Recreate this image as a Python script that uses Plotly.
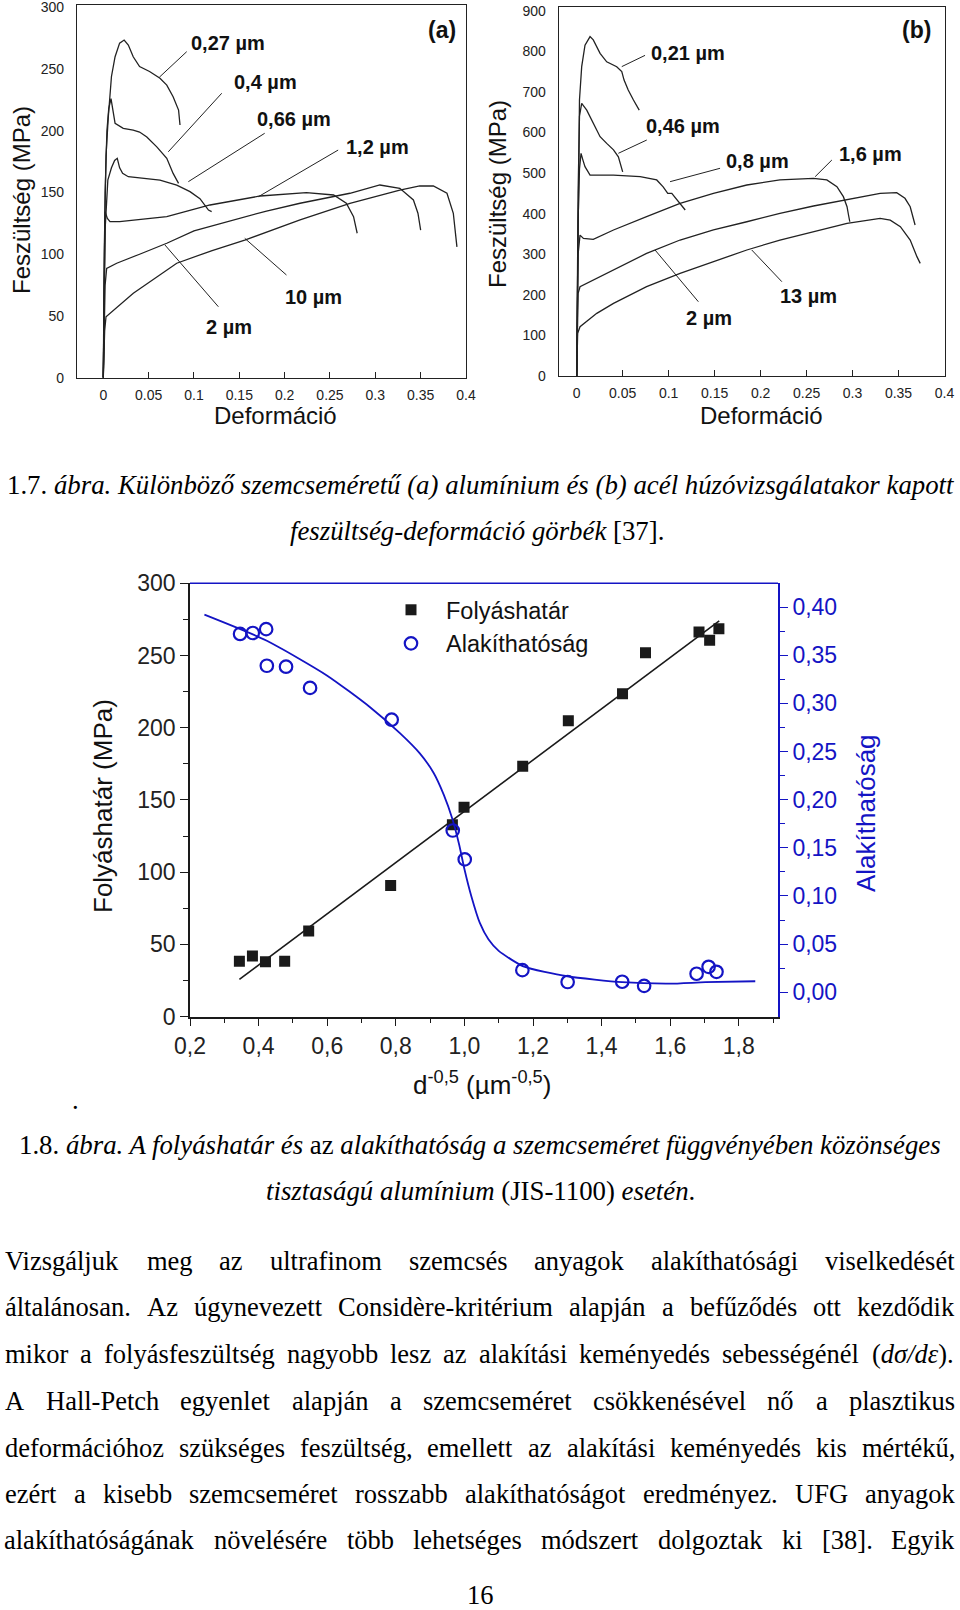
import re
import plotly.graph_objects as go

W, H = 960, 1610
SANS = "Liberation Sans, Arial, sans-serif"
SERIF = "Liberation Serif, Times New Roman, serif"
BLUE = "#1414c4"
INK = "#1a1a1a"
CURVE = "#222222"

# ---------------- (a) aluminium stress-strain curves ----------------
a027_x = [0, 0.001, 0.003, 0.0055, 0.009, 0.013, 0.018, 0.023, 0.0276, 0.033, 0.040, 0.051, 0.0625, 0.070, 0.077, 0.083, 0.0846]
a027_y = [0, 100, 180, 211, 244, 260, 271, 273.5, 269.5, 260, 252, 248, 242.5, 237, 227.6, 216.8, 204.7]
a04_x = [0, 0.002, 0.004, 0.006, 0.0085, 0.011, 0.013, 0.022, 0.033, 0.040, 0.048, 0.059, 0.070, 0.077, 0.083]
a04_y = [0, 150, 200, 218, 226, 214, 206, 202, 200.6, 199, 195, 187, 177.7, 165.5, 157.4]
a066_x = [0, 0.002, 0.005, 0.009, 0.0125, 0.0154, 0.018, 0.0213, 0.0276, 0.040, 0.0625, 0.081, 0.0956, 0.1066, 0.116, 0.1195]
a066_y = [0, 120, 160, 170, 176, 177.7, 170, 165.5, 162.8, 162, 160, 156, 150.7, 145, 135.8, 134.5]
a12_x = [0, 0.001, 0.002, 0.0045, 0.0074, 0.018, 0.040, 0.070, 0.1177, 0.173, 0.224, 0.254, 0.268, 0.276, 0.280]
a12_y = [0, 110, 134.5, 129, 126.4, 126.5, 128, 130.4, 139.9, 147.2, 149.9, 148, 141.3, 130.4, 117]
a2_x = [0, 0.002, 0.0037, 0.0148, 0.040, 0.070, 0.100, 0.143, 0.180, 0.217, 0.250, 0.272, 0.305, 0.327, 0.342, 0.347, 0.350]
a2_y = [0, 75, 88.6, 92.7, 100, 108.9, 119, 127.8, 135, 141.3, 146.5, 149.4, 156.1, 153.4, 144, 133.2, 119.6]
a10_x = [0, 0.0015, 0.003, 0.0331, 0.081, 0.120, 0.156, 0.217, 0.272, 0.327, 0.349, 0.364, 0.379, 0.386, 0.390]
a10_y = [0, 38, 49.4, 68.4, 92.7, 103, 111.5, 127.8, 141.3, 152, 155.3, 155.3, 149.4, 133.2, 106]

# ---------------- (b) steel stress-strain curves ----------------
b021_x = [0, 0.0015, 0.003, 0.0054, 0.009, 0.0145, 0.018, 0.0254, 0.0326, 0.0435, 0.049, 0.0515, 0.056, 0.0617, 0.0653, 0.068]
b021_y = [0, 400, 680, 762, 815, 836, 828, 795, 774, 762, 750, 729, 704.5, 680, 663.5, 655]
b046_x = [0, 0.0015, 0.003, 0.0054, 0.0109, 0.018, 0.0254, 0.0326, 0.040, 0.0453, 0.050]
b046_y = [0, 450, 640, 671.7, 655, 622, 589.6, 573, 557, 540, 503]
b08_x = [0, 0.0015, 0.003, 0.0047, 0.007, 0.009, 0.0145, 0.040, 0.069, 0.087, 0.094, 0.099, 0.1034, 0.109, 0.118]
b08_y = [0, 380, 510, 548.5, 530, 515.7, 495, 495, 491, 483, 466, 450, 450, 433.6, 409]
b16_x = [0, 0.0015, 0.0036, 0.0073, 0.018, 0.040, 0.076, 0.1124, 0.1487, 0.185, 0.221, 0.2575, 0.272, 0.283, 0.290, 0.294, 0.2956, 0.297]
b16_y = [0, 300, 347, 339, 336.7, 359.7, 392.5, 425, 450, 470.5, 483, 487, 483, 466.4, 441.8, 417, 396.6, 380]
b2_x = [0, 0.0015, 0.0036, 0.0218, 0.040, 0.076, 0.1124, 0.1487, 0.185, 0.221, 0.2575, 0.294, 0.330, 0.348, 0.357, 0.3627, 0.366, 0.368]
b2_y = [0, 203.6, 220, 240.6, 261, 302, 335, 359.7, 380, 400.7, 418.8, 433.6, 450, 451.6, 437.7, 417, 384.3, 372]
b13_x = [0, 0.001, 0.0036, 0.0218, 0.040, 0.076, 0.1124, 0.1487, 0.185, 0.221, 0.2575, 0.294, 0.330, 0.341, 0.352, 0.3627, 0.370, 0.3736]
b13_y = [0, 105, 121.5, 154.4, 179, 220, 253, 281.7, 310.4, 335, 355.6, 376, 388.4, 384, 368, 335, 294, 277.5]

a_xtick_vals = [0, 0.05, 0.1, 0.15, 0.2, 0.25, 0.3, 0.35, 0.4]
a_xtick_text = ["0", "0.05", "0.1", "0.15", "0.2", "0.25", "0.3", "0.35", "0.4"]
a_ytick_vals = [0, 50, 100, 150, 200, 250, 300]
b_ytick_vals = [0, 100, 200, 300, 400, 500, 600, 700, 800, 900]

# ---------------- 1.8 chart: yield strength & formability ----------------
fy_x = [0.344, 0.382, 0.420, 0.476, 0.546, 0.785, 0.965, 0.999, 1.170, 1.303, 1.461, 1.528, 1.684, 1.715, 1.742]
fy_y = [38.4, 42.0, 38.0, 38.4, 59.2, 90.8, 132.8, 144.9, 173.3, 204.8, 223.5, 252.0, 266.3, 260.5, 268.5]
fit_fy_x = [0.344, 1.743]
fit_fy_y = [25.7, 274.0]
al_x = [0.346, 0.383, 0.422, 0.424, 0.480, 0.550, 0.788, 0.966, 1.001, 1.169, 1.301, 1.460, 1.524, 1.677, 1.712, 1.735]
al_y = [0.372, 0.373, 0.377, 0.339, 0.338, 0.316, 0.283, 0.168, 0.138, 0.023, 0.0107, 0.011, 0.0067, 0.0193, 0.0265, 0.0213]
fit_al_x = [0.242, 0.424, 0.599, 0.725, 0.812, 0.870, 0.910, 0.940, 0.965, 0.985, 1.000, 1.020, 1.045, 1.070, 1.100, 1.172, 1.30, 1.46, 1.597, 1.703, 1.848]
fit_al_y = [0.392, 0.365, 0.329, 0.296, 0.269, 0.248, 0.228, 0.205, 0.180, 0.153, 0.128, 0.100, 0.072, 0.055, 0.043, 0.027, 0.0167, 0.0105, 0.009, 0.0105, 0.0115]

m_xtick_vals = [0.2, 0.4, 0.6, 0.8, 1.0, 1.2, 1.4, 1.6, 1.8]
m_xtick_text = ["0,2", "0,4", "0,6", "0,8", "1,0", "1,2", "1,4", "1,6", "1,8"]
m_xminor = [0.3, 0.5, 0.7, 0.9, 1.1, 1.3, 1.5, 1.7, 1.9]
m_yl_vals = [0, 50, 100, 150, 200, 250, 300]
m_yl_minor = [25, 75, 125, 175, 225, 275]
m_yr_vals = [0, 0.05, 0.10, 0.15, 0.20, 0.25, 0.30, 0.35, 0.40]
m_yr_text = ["0,00", "0,05", "0,10", "0,15", "0,20", "0,25", "0,30", "0,35", "0,40"]
m_yr_minor = [0.025, 0.075, 0.125, 0.175, 0.225, 0.275, 0.325, 0.375]

# ---------------- page text ----------------
cap17 = ["1.7. <i>ábra. Különböző szemcseméretű (a) alumínium és (b) acél húzóvizsgálatakor kapott</i>",
         "<i>feszültség-deformáció görbék</i> [37]."]
cap18 = ["1.8. <i>ábra. A folyáshatár és</i> az <i>alakíthatóság a szemcseméret függvényében közönséges</i>",
         "<i>tisztaságú alumínium</i> (JIS-1100) <i>esetén</i>."]
body = [
    "Vizsgáljuk meg az ultrafinom szemcsés anyagok alakíthatósági viselkedését",
    "általánosan. Az úgynevezett Considère-kritérium alapján a befűződés ott kezdődik",
    "mikor a folyásfeszültség nagyobb lesz az alakítási keményedés sebességénél (<i>dσ/dε</i>).",
    "A Hall-Petch egyenlet alapján a szemcseméret csökkenésével nő a plasztikus",
    "deformációhoz szükséges feszültség, emellett az alakítási keményedés kis mértékű,",
    "ezért a kisebb szemcseméret rosszabb alakíthatóságot eredményez. UFG anyagok",
    "alakíthatóságának növelésére több lehetséges módszert dolgoztak ki [38]. Egyik",
]

# ---------------------------------------------------------------------------
fig = go.Figure()

def add_curve(x, y, xa, ya):
    fig.add_trace(go.Scatter(x=x, y=y, mode="lines", xaxis=xa, yaxis=ya, showlegend=False,
                             line=dict(color=CURVE, width=1.3), hoverinfo="skip"))

for cx, cy in [(a027_x, a027_y), (a04_x, a04_y), (a066_x, a066_y), (a12_x, a12_y), (a2_x, a2_y), (a10_x, a10_y)]:
    add_curve(cx, cy, "x", "y")
for cx, cy in [(b021_x, b021_y), (b046_x, b046_y), (b08_x, b08_y), (b16_x, b16_y), (b2_x, b2_y), (b13_x, b13_y)]:
    add_curve(cx, cy, "x2", "y2")

fig.add_trace(go.Scatter(x=fit_fy_x, y=fit_fy_y, mode="lines", xaxis="x3", yaxis="y3", showlegend=False,
                         line=dict(color=INK, width=1.6)))
fig.add_trace(go.Scatter(x=fit_al_x, y=fit_al_y, mode="lines", xaxis="x3", yaxis="y4", showlegend=False,
                         line=dict(color=BLUE, width=1.8, shape="spline", smoothing=0.6)))
fig.add_trace(go.Scatter(x=fy_x, y=fy_y, mode="markers", xaxis="x3", yaxis="y3", name="Folyáshatár",
                         marker=dict(symbol="square", size=11, color=INK)))
fig.add_trace(go.Scatter(x=al_x, y=al_y, mode="markers", xaxis="x3", yaxis="y4", name="Alakíthatóság",
                         marker=dict(symbol="circle-open", size=12.5, color=BLUE, line=dict(width=2.2, color=BLUE))))

def px(v):
    return v / W

def py(v):
    return 1 - v / H

tickf_small = dict(family=SANS, size=14, color="#222")
tickf_big = dict(family=SANS, size=23, color="#222")

common_top = dict(showline=True, mirror=True, linecolor="#222", linewidth=1.3, showgrid=False, zeroline=False,
                  ticklabeloverflow="allow")

fig.update_layout(
    width=W, height=H, autosize=False,
    margin=dict(l=0, r=0, t=0, b=0, pad=0, autoexpand=False),
    paper_bgcolor="white", plot_bgcolor="white",
    font=dict(family=SANS, color="#111"),
    xaxis=dict(domain=[px(77), px(466)], range=[-0.029, 0.4], anchor="y", tickvals=a_xtick_vals,
               ticktext=a_xtick_text, ticks="inside", ticklen=6, tickcolor="#222", tickfont=tickf_small,
               ticklabelstandoff=4, **common_top),
    yaxis=dict(domain=[py(377.7), py(5)], range=[0, 301.9], anchor="x", tickvals=a_ytick_vals,
               ticks="", tickfont=tickf_small, ticklabelstandoff=9, **common_top),
    xaxis2=dict(domain=[px(558.7), px(944.5)], range=[-0.0196, 0.4], anchor="y2", tickvals=a_xtick_vals,
                ticktext=a_xtick_text, ticks="inside", ticklen=6, tickcolor="#222", tickfont=tickf_small,
                ticklabelstandoff=4, **common_top),
    yaxis2=dict(domain=[py(376), py(7.3)], range=[0, 908.3], anchor="x2", tickvals=b_ytick_vals,
                ticks="", tickfont=tickf_small, ticklabelstandoff=9, **common_top),
    xaxis3=dict(domain=[px(190), px(778)], range=[0.2, 1.9143], anchor="y3", tickvals=m_xtick_vals,
                ticktext=m_xtick_text, ticks="outside", ticklen=8, tickwidth=1.3, tickcolor=INK,
                minor=dict(tickmode="array", tickvals=m_xminor, ticks="outside", ticklen=5, tickcolor=INK),
                tickfont=tickf_big, showline=True, linecolor=INK, linewidth=1.6, showgrid=False, zeroline=False,
                ticklabeloverflow="allow"),
    yaxis3=dict(domain=[py(1016.6), py(583.3)], range=[0, 300], anchor="x3", tickvals=m_yl_vals,
                ticks="outside", ticklen=8, tickwidth=1.3, tickcolor=INK,
                minor=dict(tickmode="array", tickvals=m_yl_minor, ticks="outside", ticklen=5, tickcolor=INK),
                tickfont=tickf_big, showline=True, linecolor=INK, linewidth=1.6, showgrid=False, zeroline=False,
                ticklabeloverflow="allow"),
    yaxis4=dict(overlaying="y3", side="right", anchor="x3", range=[-0.0252, 0.4246], tickvals=m_yr_vals,
                ticktext=m_yr_text, ticks="outside", ticklen=8, tickwidth=1.3, tickcolor=BLUE,
                minor=dict(tickmode="array", tickvals=m_yr_minor, ticks="outside", ticklen=5, tickcolor=BLUE),
                tickfont=dict(family=SANS, size=23, color=BLUE), showline=True, linecolor=BLUE, linewidth=1.6,
                showgrid=False, zeroline=False, ticklabeloverflow="allow"),
    legend=dict(x=px(376), y=py(588), xanchor="left", yanchor="top", bgcolor="rgba(0,0,0,0)",
                font=dict(family=SANS, size=23.5, color="#111"), itemwidth=60, tracegroupgap=0),
    showlegend=True,
)

fig.add_shape(type="line", xref="x3 domain", yref="y3 domain", x0=0, x1=1, y0=1, y1=1,
              line=dict(color=BLUE, width=1.6))

ann = []
lab_font = dict(family=SANS, size=20, color="#111")


def note(text, x, y, xref, yref, font, angle=0):
    ann.append(dict(text=text, x=x, y=y, xref=xref, yref=yref, xanchor="center", yanchor="middle",
                    showarrow=False, font=font, textangle=angle, borderpad=0))


# labels on (a)
for t, x, y in [("0,27 µm", 0.1379, 271.5), ("0,4 µm", 0.1792, 239.8), ("0,66 µm", 0.2105, 209.4),
                ("1,2 µm", 0.3024, 187.1), ("2 µm", 0.1388, 40.7), ("10 µm", 0.2316, 65.6)]:
    note("<b>%s</b>" % t, x, y, "x", "y", lab_font)
note("<b>(a)</b>", 0.3732, 281.7, "x", "y", dict(family=SANS, size=23, color="#111"))
for (tx, ty), (hx, hy) in [((0.092, 264.1), (0.0618, 243.4)), ((0.1306, 230.4), (0.0717, 183.0)),
                           ((0.178, 198.0), (0.0938, 158.8)), ((0.259, 184.4), (0.171, 146.6)),
                           ((0.1269, 57.5), (0.068, 107.5)), ((0.202, 83.2), (0.156, 112.9))]:
    fig.add_shape(type="line", xref="x", yref="y", x0=tx, y0=ty, x1=hx, y1=hy,
                  line=dict(color="#222", width=1))

# labels on (b)
for t, x, y in [("0,21 µm", 0.1206, 794.9), ("0,46 µm", 0.1151, 616.3), ("0,8 µm", 0.1967, 530.1),
                ("1,6 µm", 0.3191, 546.4), ("2 µm", 0.1442, 144.1), ("13 µm", 0.252, 197.6)]:
    note("<b>%s</b>" % t, x, y, "x2", "y2", lab_font)
note("<b>(b)</b>", 0.369, 852.4, "x2", "y2", dict(family=SANS, size=23, color="#111"))
for (tx, ty), (hx, hy) in [((0.0743, 789.9), (0.049, 762.2)), ((0.0762, 581.4), (0.0453, 548.6)),
                           ((0.1559, 511.7), (0.1015, 478.7)), ((0.2775, 532.1), (0.2593, 491.0)),
                           ((0.1323, 183.0), (0.0852, 310.4)), ((0.2231, 232.3), (0.1904, 310.4))]:
    fig.add_shape(type="line", xref="x2", yref="y2", x0=tx, y0=ty, x1=hx, y1=hy,
                  line=dict(color="#222", width=1))

# axis titles of the top charts
tf = dict(family=SANS, size=24, color="#111")
note("Feszültség (MPa)", px(21), py(200), "paper", "paper", tf, -90)
note("Feszültség (MPa)", px(498), py(194), "paper", "paper", tf, -90)
note("Deformáció", px(275), py(415), "paper", "paper", tf)
note("Deformáció", px(761), py(415), "paper", "paper", tf)

# middle chart titles
mf = dict(family=SANS, size=26, color="#111")
note("Folyáshatár (MPa)", px(103), py(806), "paper", "paper", mf, -90)
note("Alakíthatóság", px(866), py(813), "paper", "paper", dict(family=SANS, size=26, color=BLUE), -90)
note("d<sup>-0,5</sup> (µm<sup>-0,5</sup>)", px(482), py(1083), "paper", "paper", mf)

# ---------------- page text ----------------
SZ = 26.5
CAP = 26.8
R = {}
for w, chars in [(0.25, " ,."), (0.278, "iljt/í:;"), (0.333, "()[]-rfI!"), (0.389, "sJ"),
                 (0.444, "acezáéè"), (0.5, "bdghknopquvxy0123456789óöőúüű"), (0.556, "FPS"),
                 (0.611, "ETLZ"), (0.667, "BCR"), (0.722, "ADGHKNOQUVXYw"), (0.778, "m"),
                 (0.889, "M"), (0.944, "W")]:
    for ch in chars:
        R[ch] = w
IT = {}
for w, chars in [(0.25, " ,."), (0.278, "fijlt/í"), (0.333, "()[]-"), (0.389, "rsz"),
                 (0.444, "cekvxyéε"), (0.5, "abdghnopquáóöőúüű0123456789"), (0.55, "σ"),
                 (0.611, "AEF"), (0.667, "Kw"), (0.722, "m")]:
    for ch in chars:
        IT[ch] = w


def text_w(html, size):
    tot = 0.0
    ital = False
    for tok in re.split(r"(<i>|</i>)", html):
        if tok == "<i>":
            ital = True
            continue
        if tok == "</i>":
            ital = False
            continue
        tab = IT if ital else R
        for ch in tok:
            tot += tab.get(ch, 0.5)
    return tot * size


def serif(html, xc, yc, size):
    note(html, px(xc), py(yc), "paper", "paper", dict(family=SERIF, size=size, color="black"))


def justified(line, yc, left=5, right=955, size=SZ):
    words = line.split(" ")
    widths = [text_w(w, size) for w in words]
    gap = (right - left - sum(widths)) / (len(words) - 1)
    x = left
    for w, wd in zip(words, widths):
        serif(w, x + wd / 2, yc, size)
        x += wd + gap


serif(cap17[0], 480, 485, CAP)
serif(cap17[1], 477, 531, CAP)
serif(".", 75, 1100, SZ)
serif(cap18[0], 480, 1145, CAP)
serif(cap18[1], 480, 1191, CAP)
for i, line in enumerate(body):
    justified(line, [1261, 1307, 1354, 1400.5, 1447.5, 1494, 1540][i])
serif("16", 480, 1595, SZ)

fig.update_layout(annotations=ann)
fig.write_html("out.html", config={"displayModeBar": False},
               post_script="document.body.style.margin='0px';document.body.style.overflow='hidden';")
